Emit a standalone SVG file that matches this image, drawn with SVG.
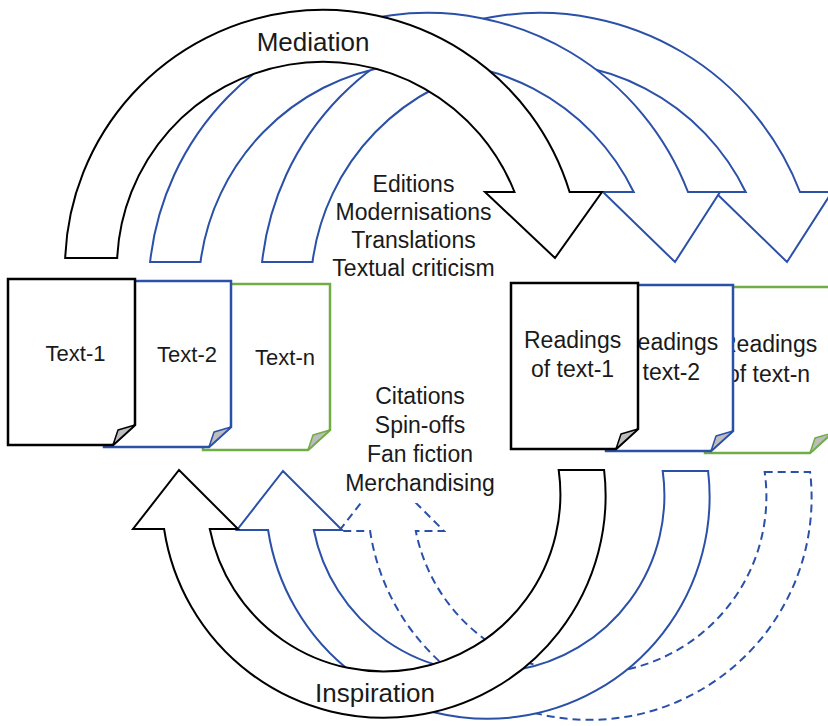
<svg xmlns="http://www.w3.org/2000/svg" width="828" height="726" viewBox="0 0 828 726">
<style>
 .k{stroke:#000}
 .b{stroke:#2B50A8}
 .g{stroke:#70AD47}
 .arr{fill:#fff;stroke-width:2;stroke-linejoin:miter}
 .dash{stroke-dasharray:8 5}
 .doc{fill:#fff;stroke-width:2.5;stroke-linejoin:miter}
 .fold{fill:#bdbdbd;stroke-width:1.5;stroke-linejoin:round}
 text{font-family:"Liberation Sans",Arial,sans-serif;fill:#1a1a1a}
 .big{font-size:26px;text-anchor:middle}
 .lab{font-size:22px;text-anchor:middle}
 .rd{font-size:23px}
 .lst{font-size:23px;text-anchor:middle}
</style>
<defs>
 <path id="topBlue" d="M150.1,262 A279 279 0 0 1 688,192 L720,192 L675,262 L603,192 L633.7,192 A229 229 0 0 0 200.5,262 Z"/>
 <path id="botArrow" d="M558.7,470 L604.1,470 A222 222 0 0 1 164.1,529 L133,529 L179,470 L238,529 L209.8,529 A177 177 0 0 0 558.7,470 Z"/>
 <path id="docShape" d="M0,0 H127 V146 L105,166 H0 Z"/>
 <path id="docFold" d="M105,166 L127,146 L110,151 Z"/>
</defs>

<g id="connectors">
 <g id="mediation-arrows">
  <use href="#topBlue" class="arr b" transform="translate(112,0)"/>
  <use href="#topBlue" class="arr b"/>
  <path class="arr k" d="M65.2,258 A258 258 0 0 1 569.6,192 L602,192 L555,258 L485,192 L514.5,192 A206 206 0 0 0 117.2,258 Z"/>
  <text class="big" x="313" y="51">Mediation</text>
 </g>
 <g id="inspiration-arrows">
  <use href="#botArrow" class="arr b dash" transform="translate(206,2)"/>
  <use href="#botArrow" class="arr b" transform="translate(104,1)"/>
  <use href="#botArrow" class="arr k"/>
  <text class="big" x="375" y="702">Inspiration</text>
 </g>
</g>

<g id="mediation-list">
 <text class="lst" x="413.5" y="191.5">Editions</text>
 <text class="lst" x="413.5" y="219.8">Modernisations</text>
 <text class="lst" x="413.5" y="248.1">Translations</text>
 <text class="lst" x="413.5" y="276.4">Textual criticism</text>
</g>

<g id="inspiration-list">
 <rect x="335" y="378" width="170" height="125" fill="#fff"/>
 <text class="lst" x="420" y="404">Citations</text>
 <text class="lst" x="420" y="433">Spin-offs</text>
 <text class="lst" x="420" y="461.5">Fan fiction</text>
 <text class="lst" x="420" y="490.5">Merchandising</text>
</g>

<g id="text-n" transform="translate(203,284)">
 <use href="#docShape" class="doc g"/>
 <use href="#docFold" class="fold g"/>
 <text class="lab" x="82" y="81">Text-n</text>
</g>
<g id="text-2" transform="translate(104,281)">
 <use href="#docShape" class="doc b"/>
 <use href="#docFold" class="fold b"/>
 <text class="lab" x="83" y="81">Text-2</text>
</g>
<g id="text-1" transform="translate(8,279)">
 <use href="#docShape" class="doc k"/>
 <use href="#docFold" class="fold k"/>
 <text class="lab" x="67.5" y="82">Text-1</text>
</g>

<g id="readings-n" transform="translate(705,287)">
 <use href="#docShape" class="doc g"/>
 <use href="#docFold" class="fold g"/>
 <text class="rd" x="15" y="65">Readings</text>
 <text class="rd" x="22" y="95">of text-n</text>
</g>
<g id="readings-2" transform="translate(606,285)">
 <use href="#docShape" class="doc b"/>
 <use href="#docFold" class="fold b"/>
 <text class="rd" x="15" y="65">Readings</text>
 <text class="rd" x="11" y="95">of text-2</text>
</g>
<g id="readings-1" transform="translate(511,283)">
 <use href="#docShape" class="doc k"/>
 <use href="#docFold" class="fold k"/>
 <text class="rd" x="13" y="65">Readings</text>
 <text class="rd" x="20" y="94">of text-1</text>
</g>
</svg>
